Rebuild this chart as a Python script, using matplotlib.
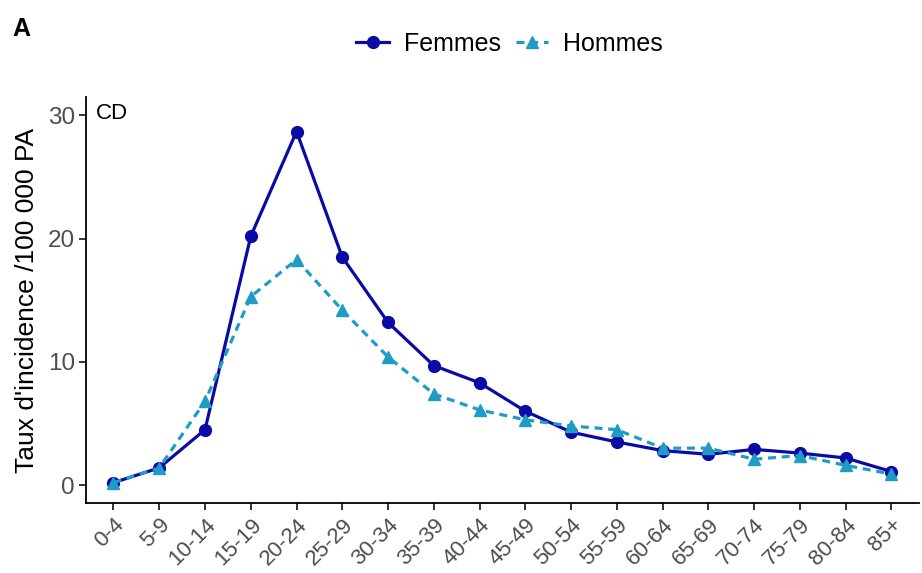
import matplotlib.pyplot as plt

plt.rcParams['font.family'] = ['Liberation Sans', 'DejaVu Sans']

age_groups = ['0-4', '5-9', '10-14', '15-19', '20-24', '25-29', '30-34', '35-39', '40-44',
              '45-49', '50-54', '55-59', '60-64', '65-69', '70-74', '75-79', '80-84', '85+']
femmes = [0.2, 1.4, 4.5, 20.2, 28.7, 18.5, 13.2, 9.7, 8.3,
          6.0, 4.3, 3.5, 2.8, 2.5, 2.9, 2.6, 2.2, 1.1]
hommes = [0.2, 1.4, 6.8, 15.3, 18.3, 14.2, 10.4, 7.4, 6.1,
          5.3, 4.8, 4.5, 3.0, 3.0, 2.1, 2.4, 1.6, 0.9]

col_f = '#0a0aa4'
col_h = '#1f9cc6'

fig = plt.figure(figsize=(9.22, 5.73), dpi=100)
ax = fig.add_axes([0.0933, 0.1222, 0.9034, 0.7085])

x = list(range(len(age_groups)))
ax.plot(x, femmes, '-', color=col_f, lw=2.3, marker='o', markersize=8.5, label='Femmes')
ax.plot(x, hommes, '--', color=col_h, lw=2.3, marker='^', markersize=9, label='Hommes',
        dashes=(2.5, 1.8))

ax.set_xlim(-0.6, len(age_groups) - 0.4)
ax.set_ylim(-1.45, 31.5)
ax.set_yticks([0, 10, 20, 30])
ax.set_xticks(x)
ax.set_xticklabels(age_groups, rotation=45, ha='right', rotation_mode='anchor')
ax.tick_params(axis='both', colors='black', labelcolor='#4d4d4d', length=5, width=1.1)
ax.tick_params(axis='x', labelsize=16, pad=3)
ax.tick_params(axis='y', labelsize=17.5, pad=3)
for s in ['top', 'right']:
    ax.spines[s].set_visible(False)
for s in ['left', 'bottom']:
    ax.spines[s].set_linewidth(1.3)
    ax.spines[s].set_color('black')

ax.set_ylabel("Taux d'incidence /100 000 PA", fontsize=19, color='black', labelpad=6)
ax.text(0.012, 0.985, 'CD', transform=ax.transAxes, fontsize=16, va='top', ha='left')

fig.text(0.013, 0.95, 'A', fontsize=18, fontweight='bold', va='center', ha='left')
fig.legend(loc='center', bbox_to_anchor=(0.553, 0.923), ncol=2, frameon=False,
           fontsize=18, handlelength=1.3, columnspacing=0.6, handletextpad=0.6)

fig.savefig('out.png', dpi=100)
